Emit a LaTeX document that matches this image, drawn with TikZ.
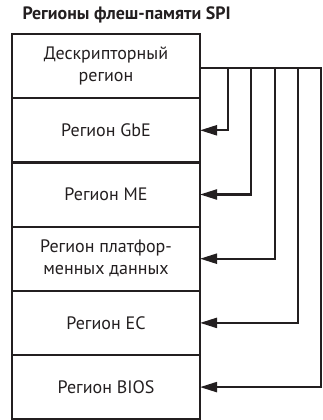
\documentclass[tikz,border=0pt]{standalone}
\usepackage{fontspec}
\setmainfont{PT Sans}
\usetikzlibrary{positioning,arrows.meta}
\definecolor{regNegro}{HTML}{231F20}
\begin{document}
\begin{tikzpicture}[x=1pt, y=-1pt,
      region/.style={draw=regNegro, line width=2.2pt, outer sep=0pt, inner sep=0pt,
                     minimum width=188pt, minimum height=64.2pt, align=center,
                     text=regNegro},
      enlace/.style={draw=regNegro, line width=2.2pt,
                     -{Triangle[length=17pt, width=10pt]}},
      every node/.style={font=\fontsize{18}{22}\selectfont}]
    \useasboundingbox (0,0) rectangle (323,420);
    \node[anchor=west, text=regNegro, font=\bfseries\fontsize{17.9}{22}\selectfont]
          (titulo) at (19,15) {Регионы флеш-памяти SPI};
    \node[region] (desc) at (106,66.1) {Дескрипторный\\ регион};
    \node[region, below=0pt of desc] (gbe)  {Регион GbE};
    \node[region, below=0pt of gbe]  (me)   {Регион ME};
    \node[region, below=0pt of me]   (plat) {Регион платфор-\\ менных данных};
    \node[region, below=0pt of plat] (ec)   {Регион EC};
    \node[region, below=0pt of ec]   (bios) {Регион BIOS};
    \coordinate (col1) at (228,68);
    \coordinate (col2) at (251,68);
    \coordinate (col3) at (275,68);
    \coordinate (col4) at (298,68);
    \coordinate (col5) at (321,68);
    \draw[enlace] (desc.east |- col1) -- (col1) |- (gbe.east);
    \draw[enlace] (desc.east |- col1) -- (col2) |- (me.east);
    \draw[enlace] (desc.east |- col1) -- (col3) |- (plat.east);
    \draw[enlace] (desc.east |- col1) -- (col4) |- (ec.east);
    \draw[enlace] (desc.east |- col1) -- (col5) |- (bios.east);
  \end{tikzpicture}
\end{document}
